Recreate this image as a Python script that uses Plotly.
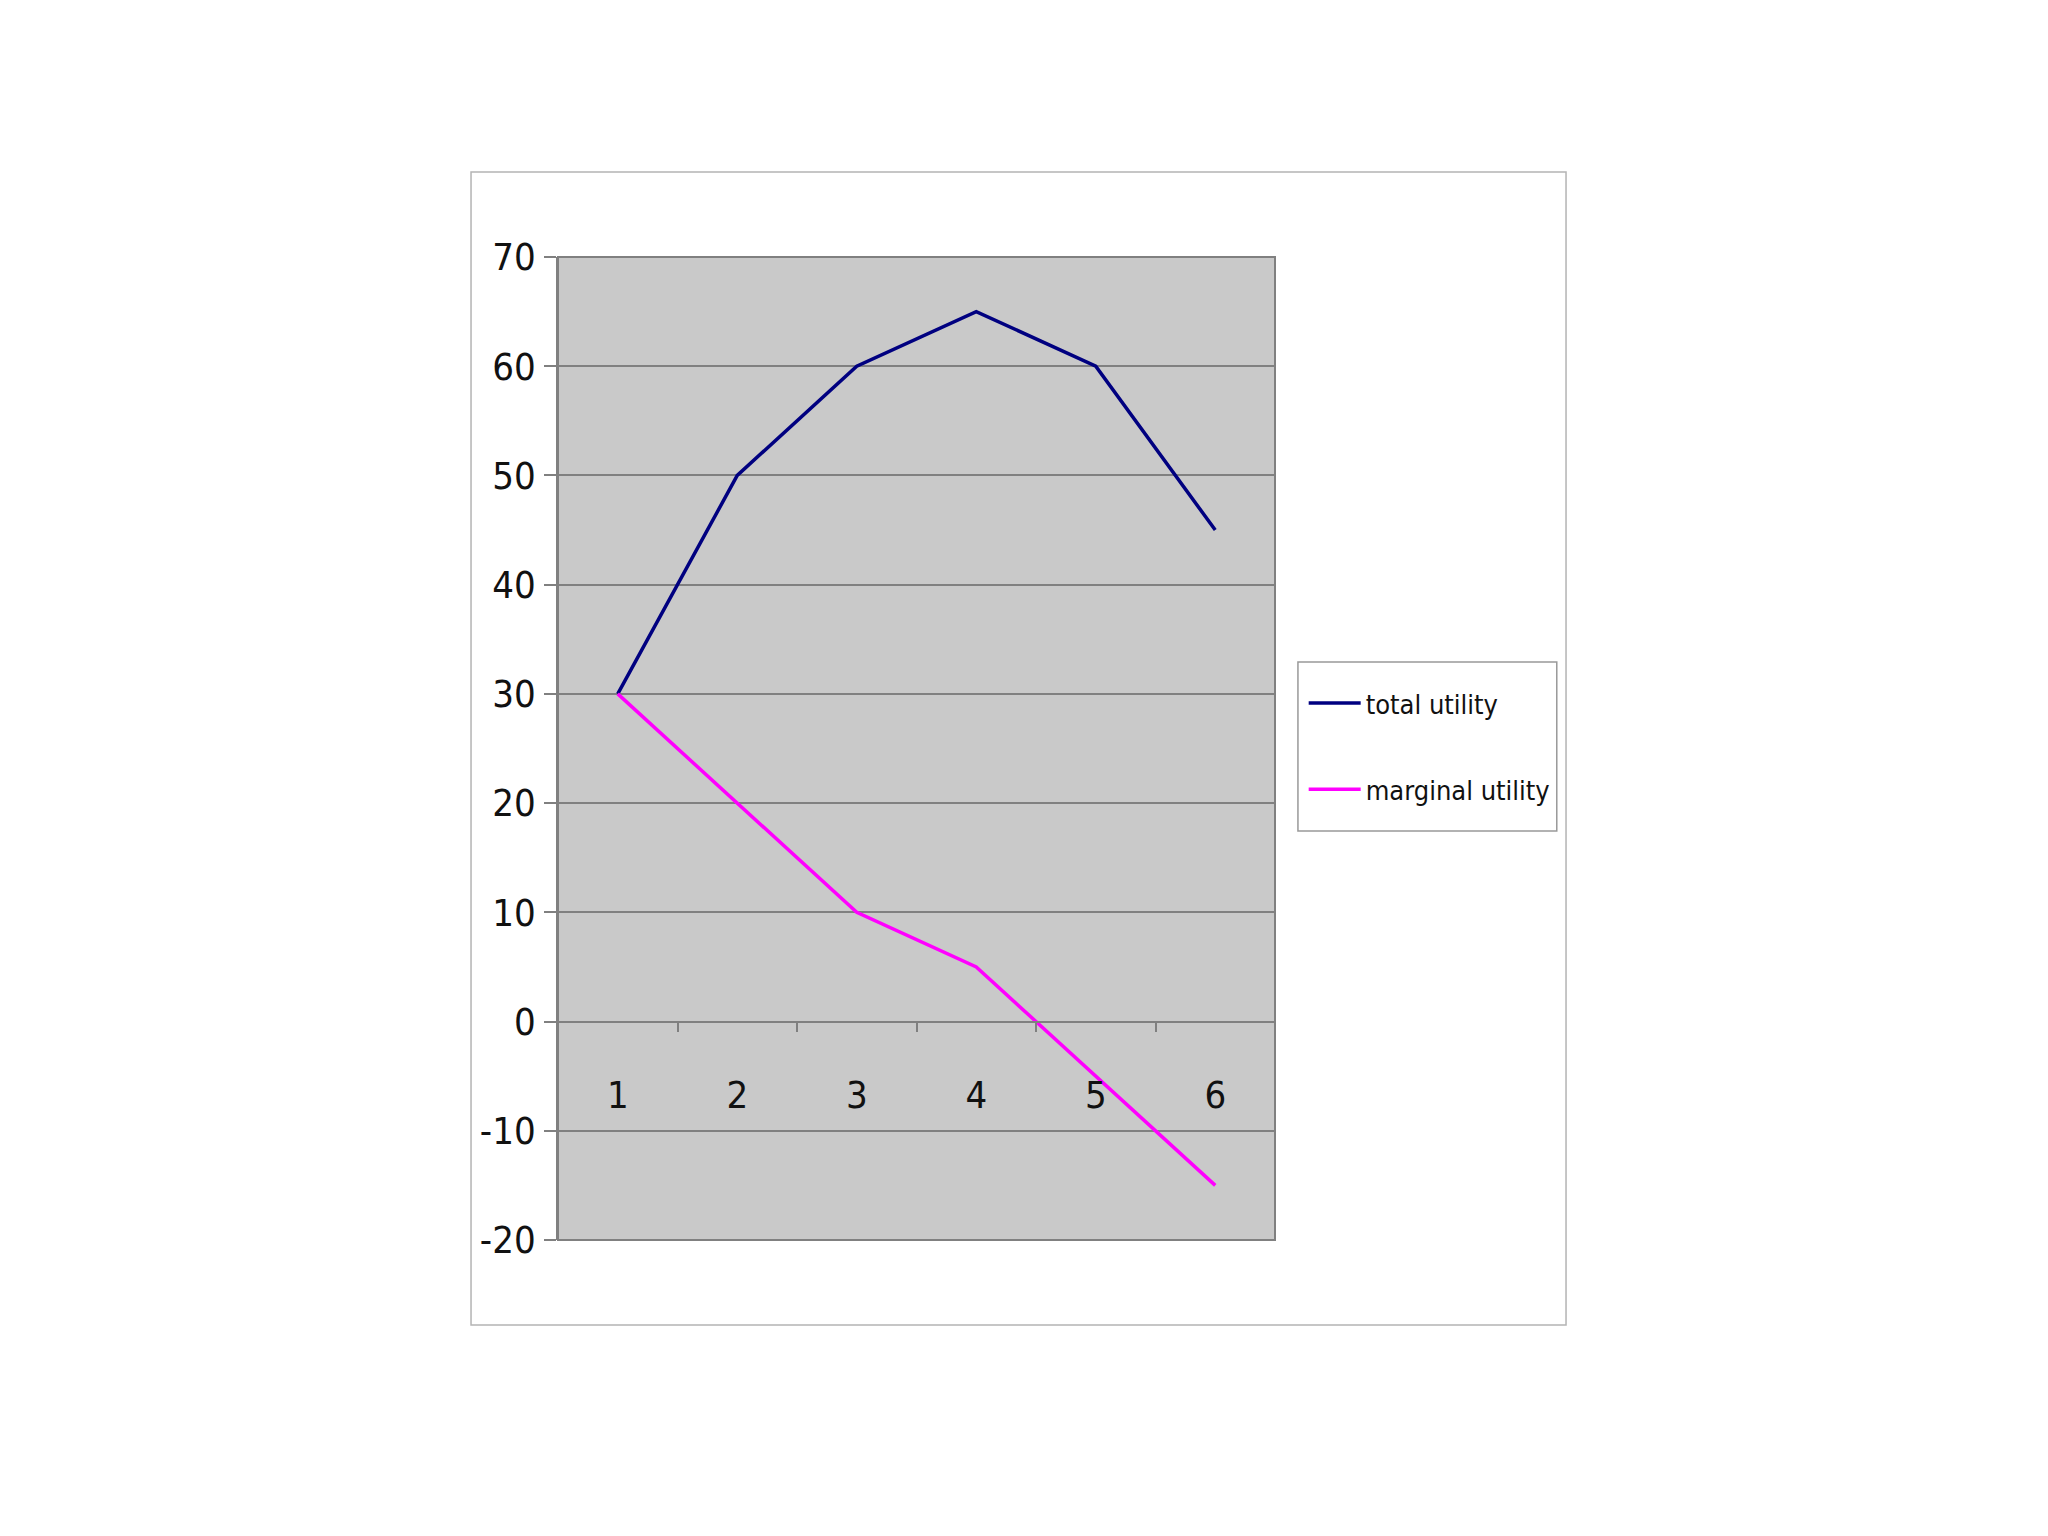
import plotly.graph_objects as go

categories = ["1", "2", "3", "4", "5", "6"]
total_utility = [30, 50, 60, 65, 60, 45]
marginal_utility = [30, 20, 10, 5, -5, -15]
y_ticks = [-20, -10, 0, 10, 20, 30, 40, 50, 60, 70]

FONT = "Liberation Sans Narrow, Arial Narrow, DejaVu Sans Condensed, Liberation Sans, sans-serif"

fig = go.Figure()
fig.add_trace(go.Scatter(x=categories, y=total_utility, mode="lines", name="total utility",
                         line=dict(color="#000080", width=3.5), legendgroup="a"))
fig.add_trace(go.Scatter(x=categories, y=marginal_utility, mode="lines", name="marginal utility",
                         line=dict(color="#FF00FF", width=3.5), legendgroup="b"))

ymin, ymax = -20, 70
zero_frac = (0 - ymin) / (ymax - ymin)

fig.update_layout(
    width=2048, height=1536,
    margin=dict(l=550, r=781, t=249, b=304, pad=0),
    paper_bgcolor="white",
    plot_bgcolor="#c9c9c9",
    font=dict(family=FONT, size=38, color="#111111"),
    showlegend=True,
    legend=dict(x=1.040, y=0.502, xanchor="left", yanchor="middle",
                borderwidth=0, bgcolor="rgba(0,0,0,0)",
                font=dict(family=FONT, size=27, color="#111111"),
                tracegroupgap=48, itemwidth=52),
    xaxis=dict(type="category", range=[-0.5, 5.5], tickson="boundaries",
               anchor="free", position=zero_frac,
               showgrid=False, zeroline=False, showline=True, linecolor="#808080", linewidth=1.5,
               ticks="outside", ticklen=10, tickcolor="#808080", tickwidth=1.5,
               ticklabelstandoff=40, tickfont=dict(family=FONT, size=38, color="#111111")),
    yaxis=dict(range=[ymin, ymax], tickvals=y_ticks, ticktext=[str(v) for v in y_ticks],
               showgrid=True, gridcolor="#808080", gridwidth=1.5,
               zeroline=False, showline=True, linecolor="#808080", linewidth=1.5,
               ticks="outside", ticklen=12, tickcolor="#808080", tickwidth=1.5,
               ticklabelstandoff=1, tickfont=dict(family=FONT, size=38, color="#111111")),
    shapes=[
        dict(type="rect", xref="paper", yref="paper", x0=0, x1=1, y0=0, y1=1,
             line=dict(color="#808080", width=2), fillcolor="rgba(0,0,0,0)", layer="above"),
        dict(type="rect", xref="paper", yref="paper", x0=-0.1213, x1=1.4059, y0=-0.0865, y1=1.0865,
             line=dict(color="#b4b4b4", width=1.5), fillcolor="rgba(0,0,0,0)", layer="below"),
        dict(type="rect", xref="paper", yref="paper", x0=1.032, x1=1.393, y0=0.416, y1=0.588,
             line=dict(color="#999999", width=1.5), fillcolor="white", layer="below"),
    ],
)

fig.write_html("out.html")
